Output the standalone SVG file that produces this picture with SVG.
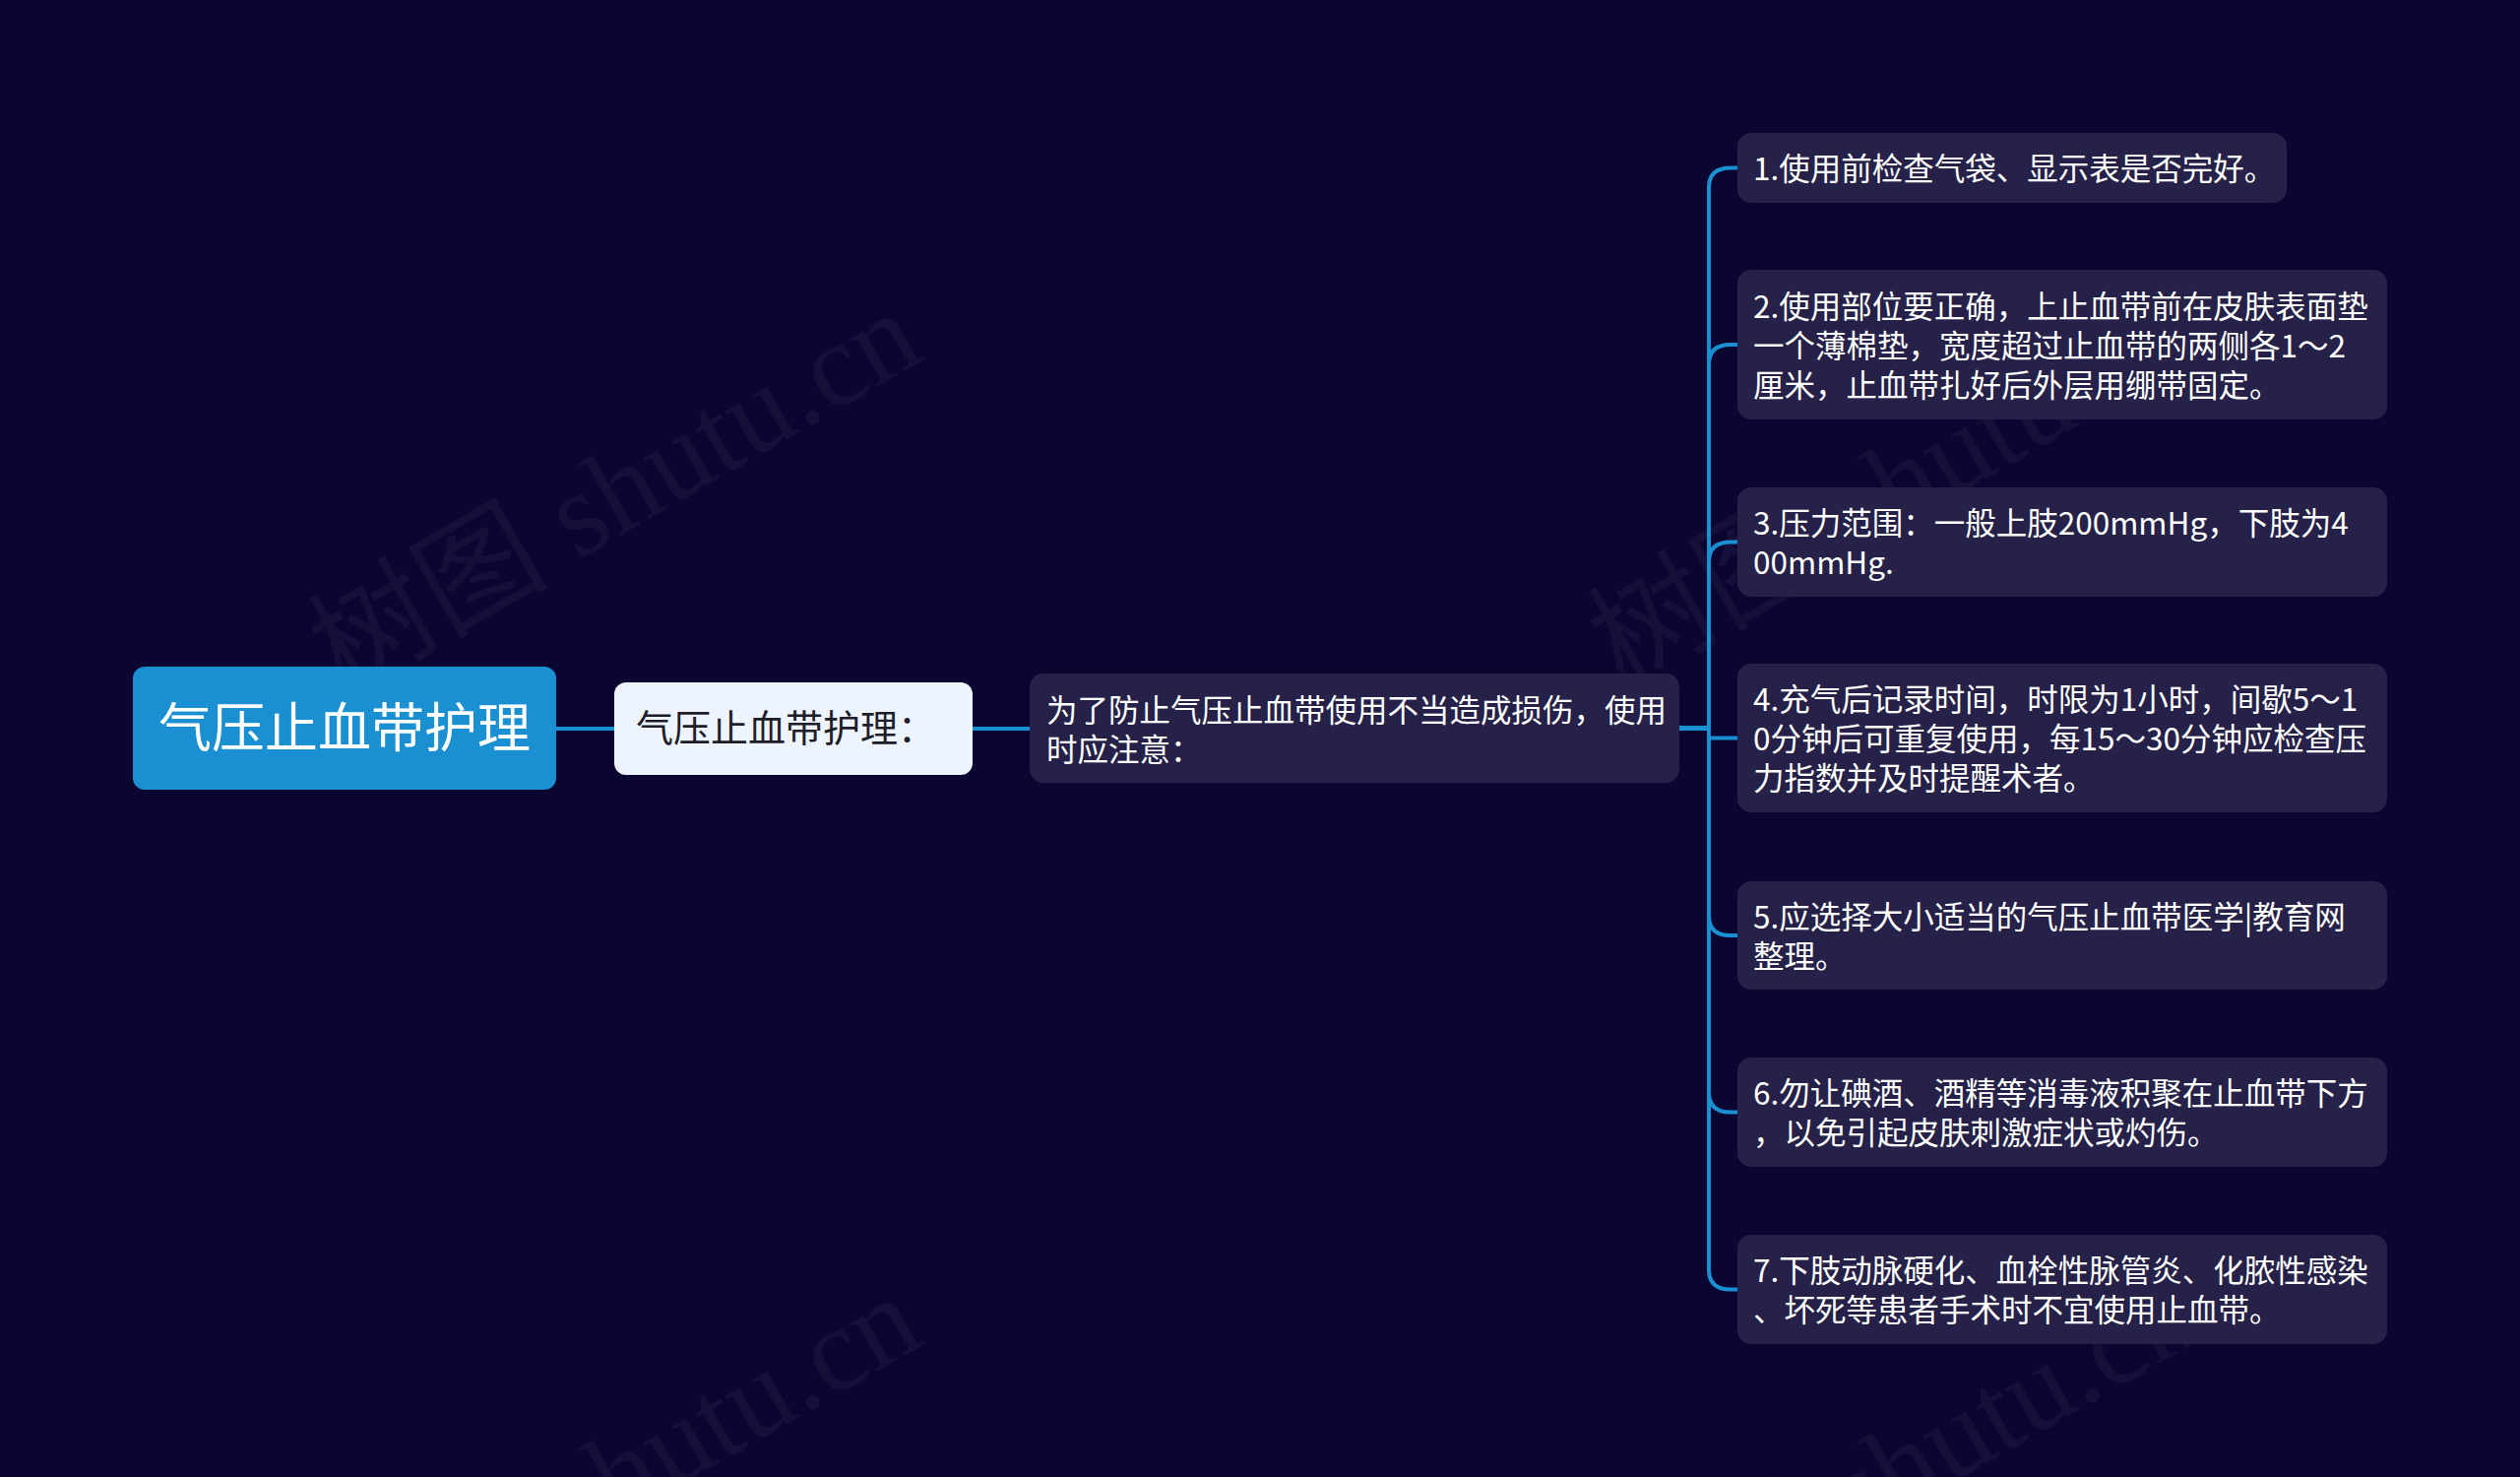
<svg xmlns="http://www.w3.org/2000/svg" width="2560" height="1500" viewBox="0 0 2560 1500">
<defs>
<style>
.bg{fill:#0b0631}
.wm{font-family:"Liberation Serif","Noto Sans CJK SC",serif;font-size:122px;fill:#ffffff;fill-opacity:0.045}
.conn{fill:none;stroke:#1a8fd2;stroke-width:4;stroke-linecap:round;stroke-linejoin:round}
.leaf{fill:#252148}
.txt{font-family:"Noto Sans CJK SC","Noto Sans",sans-serif;font-size:31.5px;fill:#ffffff}
.root{fill:#1a90d3}
.rootT{font-family:"Noto Sans CJK SC","Noto Sans",sans-serif;font-size:54px;fill:#ffffff}
.sub{fill:#eef4fd}
.subT{font-family:"Noto Sans CJK SC","Noto Sans",sans-serif;font-size:38px;fill:#1e1e2a}
</style>
</defs>
<rect class="bg" x="0" y="0" width="2560" height="1500"/>
<g id="watermarks">
<text class="wm" x="645" y="535" text-anchor="middle" transform="rotate(-30 645 535)">树图 shutu.cn</text>
<text class="wm" x="1945" y="528" text-anchor="middle" transform="rotate(-30 1945 528)">树图 shutu.cn</text>
<text class="wm" x="645" y="1535" text-anchor="middle" transform="rotate(-30 645 1535)">树图 shutu.cn</text>
<text class="wm" x="1945" y="1528" text-anchor="middle" transform="rotate(-30 1945 1528)">树图 shutu.cn</text>
</g>
<g id="connectors">
<path class="conn" d="M565 740 H625"/>
<path class="conn" d="M988 740 H1047"/>
<path class="conn" d="M1706 739.5 H1736 V190.5 Q1736 170.5 1758 170.5 H1766"/>
<path class="conn" d="M1706 739.5 H1736 V370 Q1736 350 1758 350 H1766"/>
<path class="conn" d="M1706 739.5 H1736 V570.5 Q1736 550.5 1758 550.5 H1766"/>
<path class="conn" d="M1706 739.5 H1736 V749.5 H1766"/>
<path class="conn" d="M1706 739.5 H1736 V930 Q1736 950 1758 950 H1766"/>
<path class="conn" d="M1706 739.5 H1736 V1109.5 Q1736 1129.5 1758 1129.5 H1766"/>
<path class="conn" d="M1706 739.5 H1736 V1289.5 Q1736 1309.5 1758 1309.5 H1766"/>
</g>
<g id="node-root">
<rect class="root" x="135" y="677" width="430" height="125" rx="12"/>
<text class="rootT" x="350" y="759" text-anchor="middle">气压止血带护理</text>
</g>
<g id="node-sub">
<rect class="sub" x="624" y="693" width="364" height="94" rx="12"/>
<text class="subT" x="646" y="753">气压止血带护理：</text>
</g>
<g id="node-intro">
<rect class="leaf" x="1046" y="684" width="660" height="111" rx="14"/>
<text class="txt" x="1063" y="733">为了防止气压止血带使用不当造成损伤，使用</text>
<text class="txt" x="1063" y="773">时应注意：</text>
</g>
<g id="node-1">
<rect class="leaf" x="1765" y="135" width="558" height="71" rx="14"/>
<text class="txt" x="1781" y="183">1.使用前检查气袋、显示表是否完好。</text>
</g>
<g id="node-2">
<rect class="leaf" x="1765" y="274" width="660" height="152" rx="14"/>
<text class="txt" x="1781" y="323">2.使用部位要正确，上止血带前在皮肤表面垫</text>
<text class="txt" x="1781" y="363">一个薄棉垫，宽度超过止血带的两侧各1～2</text>
<text class="txt" x="1781" y="403">厘米，止血带扎好后外层用绷带固定。</text>
</g>
<g id="node-3">
<rect class="leaf" x="1765" y="495" width="660" height="111" rx="14"/>
<text class="txt" x="1781" y="543">3.压力范围：一般上肢200mmHg，下肢为4</text>
<text class="txt" x="1781" y="583">00mmHg.</text>
</g>
<g id="node-4">
<rect class="leaf" x="1765" y="674" width="660" height="151" rx="14"/>
<text class="txt" x="1781" y="722">4.充气后记录时间，时限为1小时，间歇5～1</text>
<text class="txt" x="1781" y="762">0分钟后可重复使用，每15～30分钟应检查压</text>
<text class="txt" x="1781" y="802">力指数并及时提醒术者。</text>
</g>
<g id="node-5">
<rect class="leaf" x="1765" y="895" width="660" height="110" rx="14"/>
<text class="txt" x="1781" y="943">5.应选择大小适当的气压止血带医学|教育网</text>
<text class="txt" x="1781" y="983">整理。</text>
</g>
<g id="node-6">
<rect class="leaf" x="1765" y="1074" width="660" height="111" rx="14"/>
<text class="txt" x="1781" y="1122">6.勿让碘酒、酒精等消毒液积聚在止血带下方</text>
<text class="txt" x="1781" y="1162">，以免引起皮肤刺激症状或灼伤。</text>
</g>
<g id="node-7">
<rect class="leaf" x="1765" y="1254" width="660" height="111" rx="14"/>
<text class="txt" x="1781" y="1302">7.下肢动脉硬化、血栓性脉管炎、化脓性感染</text>
<text class="txt" x="1781" y="1342">、坏死等患者手术时不宜使用止血带。</text>
</g>
</svg>
